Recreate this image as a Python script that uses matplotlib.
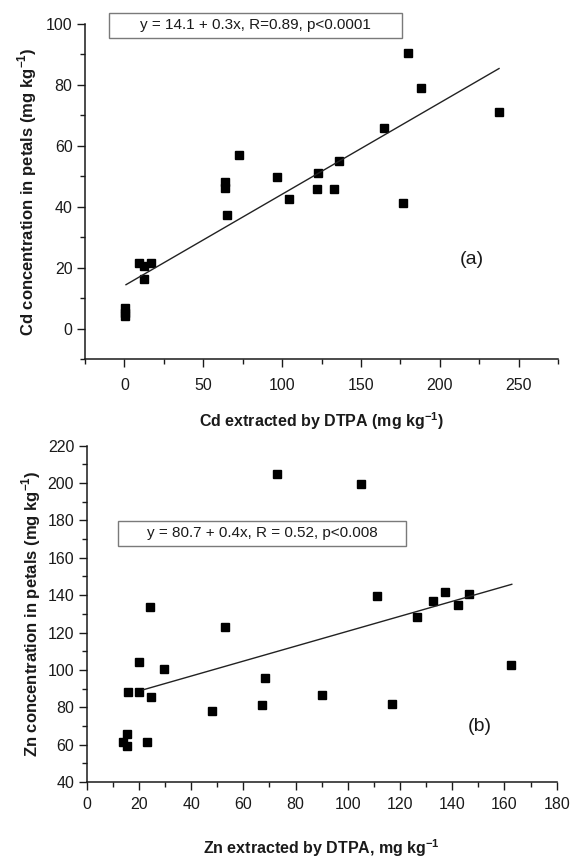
import numpy as np
import matplotlib
matplotlib.use("Agg")
import matplotlib.pyplot as plt
from matplotlib.patches import Rectangle
from matplotlib.ticker import MultipleLocator

plt.rcParams['font.family'] = ['Liberation Sans', 'DejaVu Sans']
plt.rcParams['mathtext.fontset'] = 'custom'
plt.rcParams['mathtext.rm'] = 'Liberation Sans'
plt.rcParams['mathtext.bf'] = 'Liberation Sans:bold'

# (a) Cd extracted by DTPA vs Cd in petals
cd_x = [180, 188, 237.6, 164.5, 72.9, 64.1, 63.5, 96.7, 122.5, 136.4, 122.1, 133,
        104.4, 176.5, 64.8, 9.4, 12.5, 17, 12.3, 0.5, 0.5, 0.5]
cd_y = [90.4, 78.9, 71, 65.7, 56.9, 48.2, 46.3, 49.6, 51.1, 55.1, 45.9, 45.9,
        42.7, 41.1, 37.2, 21.4, 20.6, 21.6, 16.4, 6.6, 5.2, 4.0]
cd_fit = (14.1, 0.3)
cd_fit_range = [1, 237.6]

# (b) Zn extracted by DTPA vs Zn in petals
zn_x = [72.8, 105, 111, 132.7, 137.2, 142.3, 146.5, 126.4, 24.2, 53, 162.5,
        20.1, 29.6, 15.9, 20.1, 24.5, 68.2, 67.1, 47.9, 90.2, 116.9,
        15.3, 14, 15.3, 23.2]
zn_y = [205.1, 199.5, 139.8, 137, 141.7, 134.7, 140.6, 128.1, 133.4, 123.2, 102.7,
        104.3, 100.6, 88.4, 88.2, 85.4, 95.6, 81.1, 78, 86.6, 81.6,
        65.5, 61.6, 59.5, 61.3]
zn_fit = (80.7, 0.4)
zn_fit_range = [21.7, 162.8]

W, H = 571, 861
fig = plt.figure(figsize=(W / 100, H / 100), dpi=100)
ink = '#1a1a1a'


def style(ax, xpad):
    for s in ['top', 'right']:
        ax.spines[s].set_visible(False)
    for s in ['left', 'bottom']:
        ax.spines[s].set_linewidth(1.1)
        ax.spines[s].set_color(ink)
    ax.tick_params(which='major', direction='out', length=6, width=1,
                   labelsize=11.5, colors=ink, pad=3)
    ax.tick_params(axis='x', which='major', pad=xpad)
    ax.tick_params(which='minor', direction='out', length=3.5, width=1, colors=ink)


def eq_box(x0, y0, x1, y1, txt):
    fig.patches.append(Rectangle((x0 / W, 1 - y1 / H), (x1 - x0) / W, (y1 - y0) / H,
                                 transform=fig.transFigure, fill=False,
                                 edgecolor='#7a7a7a', linewidth=1))
    fig.text((x0 + x1) / 2 / W, 1 - (y0 + y1) / 2 / H, txt, ha='center', va='center',
             fontsize=11, color=ink)


# panel a
ax = fig.add_axes([85 / W, 1 - 359 / H, 473 / W, 335 / H])
ax.plot(cd_x, cd_y, 's', color='black', ms=6)
fx = np.array(cd_fit_range)
ax.plot(fx, cd_fit[0] + cd_fit[1] * fx, '-', color='#222222', lw=1)
ax.set_xlim(-25, 275)
ax.set_ylim(-10, 100)
ax.xaxis.set_minor_locator(MultipleLocator(25))
ax.yaxis.set_minor_locator(MultipleLocator(10))
ax.set_xticks([0, 50, 100, 150, 200, 250])
ax.set_yticks([0, 20, 40, 60, 80, 100])
style(ax, 8)
ax.set_xlabel(r'Cd extracted by DTPA (mg kg$^{\mathbf{-1}}$)', fontsize=11.5,
              fontweight='bold', color=ink, labelpad=12)
ax.set_ylabel(r'Cd concentration in petals (mg kg$^{\mathbf{-1}}$)', fontsize=12,
              fontweight='bold', color=ink, labelpad=5)
ax.text(471.7 / W, 1 - 260 / H, '(a)', transform=fig.transFigure, ha='center',
        va='center', fontsize=14, color=ink)
eq_box(109, 13, 402, 38, 'y = 14.1 + 0.3x, R=0.89, p<0.0001')

# panel b
ax = fig.add_axes([86.7 / W, 1 - 782 / H, 470 / W, 336.3 / H])
ax.plot(zn_x, zn_y, 's', color='black', ms=6)
fx = np.array(zn_fit_range)
ax.plot(fx, zn_fit[0] + zn_fit[1] * fx, '-', color='#222222', lw=1)
ax.set_xlim(0, 180)
ax.set_ylim(40, 220)
ax.xaxis.set_major_locator(MultipleLocator(20))
ax.xaxis.set_minor_locator(MultipleLocator(10))
ax.yaxis.set_major_locator(MultipleLocator(20))
ax.yaxis.set_minor_locator(MultipleLocator(10))
style(ax, 5)
ax.set_xlabel(r'Zn extracted by DTPA, mg kg$^{\mathbf{-1}}$', fontsize=11.5,
              fontweight='bold', color=ink, labelpad=18)
ax.set_ylabel(r'Zn concentration in petals (mg kg$^{\mathbf{-1}}$)', fontsize=12,
              fontweight='bold', color=ink, labelpad=3)
ax.text(480 / W, 1 - 726.7 / H, '(b)', transform=fig.transFigure, ha='center',
        va='center', fontsize=14, color=ink)
eq_box(118, 521, 406, 546, 'y = 80.7 + 0.4x, R = 0.52, p<0.008')

fig.savefig('out.png', dpi=100)
